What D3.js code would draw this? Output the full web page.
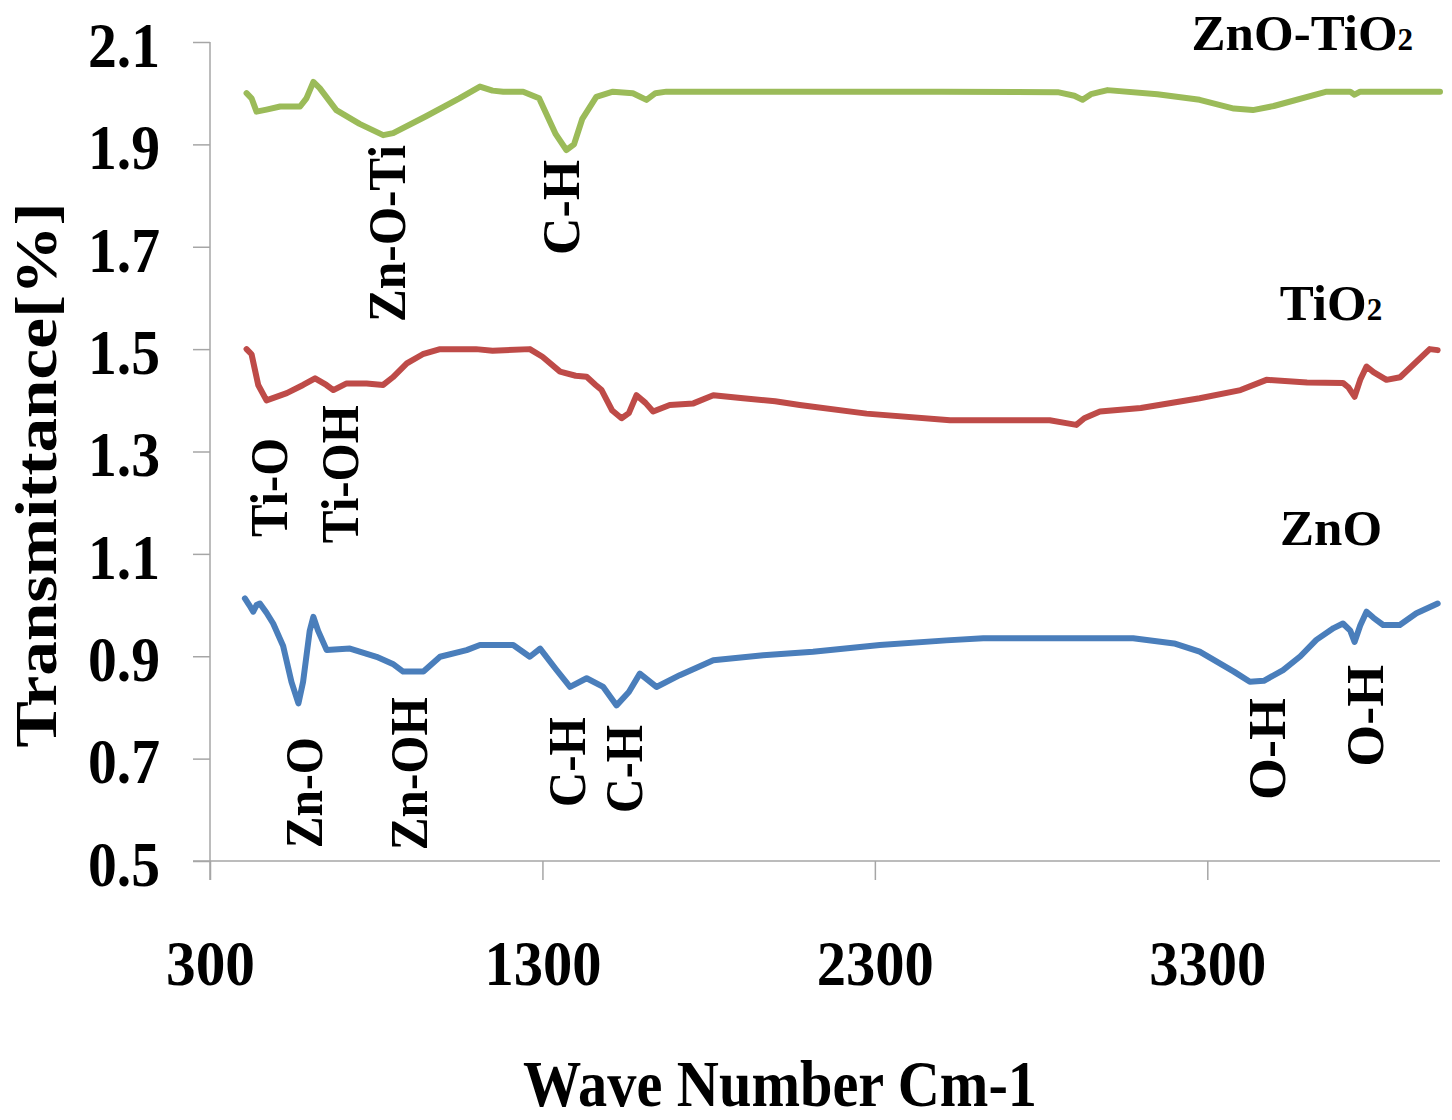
<!DOCTYPE html>
<html>
<head>
<meta charset="utf-8">
<script src="https://cdn.jsdelivr.net/npm/d3@7"></script>
<style>
  html, body { margin: 0; padding: 0; background: #fff; }
  svg { display: block; }
  text { font-family: "Liberation Serif", "Times New Roman", serif; font-weight: bold; fill: #000; }
</style>
</head>
<body>
<svg id="chart" width="1452" height="1120"></svg>
<script>
// ---- data ----
const xTicks = [300, 1300, 2300, 3300];
const yTicks = [0.5, 0.7, 0.9, 1.1, 1.3, 1.5, 1.7, 1.9, 2.1];

const seriesNames = ["ZnO-TiO2", "TiO2", "ZnO"];
const seriesColors = ["#9bbb59", "#be4b48", "#4a7ebb"];

const waveZnOTiO2 = [410, 425, 440, 470, 511, 571, 590, 611, 630, 680, 750, 821, 851, 950, 1050, 1112, 1150, 1182, 1242, 1290, 1340, 1372, 1395, 1420, 1462, 1512, 1572, 1613, 1640, 1673, 1750, 2000, 2500, 2850, 2900, 2925, 2950, 3000, 3150, 3277, 3380, 3437, 3500, 3659, 3730, 3743, 3760, 4000];
const transZnOTiO2 = [2.000, 1.990, 1.964, 1.968, 1.974, 1.974, 1.990, 2.022, 2.010, 1.967, 1.940, 1.918, 1.922, 1.955, 1.990, 2.013, 2.005, 2.003, 2.003, 1.990, 1.920, 1.889, 1.900, 1.950, 1.993, 2.003, 2.000, 1.987, 2.000, 2.003, 2.003, 2.003, 2.003, 2.002, 1.995, 1.987, 1.998, 2.006, 1.998, 1.987, 1.970, 1.967, 1.975, 2.003, 2.003, 1.997, 2.003, 2.003];

const waveTiO2 = [410, 425, 445, 470, 531, 580, 616, 650, 671, 711, 771, 821, 850, 892, 940, 992, 1100, 1150, 1262, 1300, 1353, 1400, 1433, 1460, 1478, 1510, 1538, 1560, 1583, 1610, 1633, 1683, 1754, 1814, 1904, 2000, 2074, 2275, 2526, 2826, 2880, 2906, 2930, 2977, 3100, 3277, 3400, 3478, 3600, 3708, 3725, 3743, 3760, 3779, 3800, 3839, 3880, 3969, 3993];
const transTiO2 = [1.500, 1.490, 1.430, 1.400, 1.414, 1.430, 1.443, 1.430, 1.420, 1.433, 1.433, 1.430, 1.445, 1.472, 1.490, 1.500, 1.500, 1.497, 1.500, 1.485, 1.456, 1.448, 1.446, 1.430, 1.420, 1.380, 1.365, 1.375, 1.410, 1.395, 1.378, 1.391, 1.394, 1.410, 1.404, 1.398, 1.391, 1.374, 1.361, 1.361, 1.355, 1.352, 1.365, 1.378, 1.385, 1.404, 1.420, 1.440, 1.435, 1.434, 1.425, 1.407, 1.440, 1.466, 1.455, 1.440, 1.445, 1.500, 1.498];

const waveZnO = [405, 418, 430, 440, 450, 470, 490, 520, 545, 566, 580, 600, 611, 625, 651, 721, 801, 850, 881, 942, 992, 1072, 1112, 1172, 1212, 1262, 1293, 1340, 1383, 1433, 1483, 1523, 1560, 1593, 1643, 1713, 1814, 1964, 2114, 2315, 2515, 2626, 2906, 3077, 3200, 3277, 3380, 3428, 3470, 3528, 3580, 3628, 3680, 3708, 3730, 3743, 3760, 3779, 3800, 3829, 3879, 3929, 3993];
const transZnO = [1.013, 1.000, 0.987, 1.000, 1.003, 0.985, 0.964, 0.920, 0.850, 0.808, 0.850, 0.950, 0.977, 0.950, 0.912, 0.915, 0.899, 0.885, 0.870, 0.870, 0.899, 0.912, 0.922, 0.922, 0.922, 0.899, 0.915, 0.875, 0.840, 0.857, 0.840, 0.804, 0.830, 0.866, 0.840, 0.863, 0.892, 0.902, 0.909, 0.922, 0.931, 0.935, 0.935, 0.935, 0.925, 0.909, 0.870, 0.850, 0.852, 0.873, 0.900, 0.932, 0.955, 0.964, 0.950, 0.928, 0.960, 0.987, 0.975, 0.961, 0.961, 0.984, 1.003];

// peak annotations: label, wavenumber & transmittance where the rotated text starts
const peakLabels = ["Zn-O-Ti", "C-H", "Ti-O", "Ti-OH", "Zn-O", "Zn-OH", "C-H", "C-H", "O-H", "O-H"];
const peakWave   = [887, 1410, 532, 745, 637, 953, 1428, 1600, 3534, 3829];
const peakTrans  = [1.553, 1.684, 1.133, 1.121, 0.525, 0.521, 0.605, 0.594, 0.619, 0.684];

// series name label anchors (right end)
const nameWave  = [3919, 3826, 3826];
const nameTrans = [2.084, 1.557, 1.117];

const xTitle = "Wave Number Cm-1";
const yTitle = "Transmittance[%]";

// ---- drawing ----
const svg = d3.select("#chart");
const x = d3.scaleLinear().domain([300, 4000]).range([210, 1440]);
const y = d3.scaleLinear().domain([0.5, 2.1]).range([861, 42]);

const axisColor = "#a6a6a6";

// y axis
const gy = svg.append("g").attr("transform", `translate(${x(300)},0)`)
  .call(d3.axisLeft(y).tickValues(yTicks).tickFormat(d3.format(".1f")).tickSize(17).tickSizeOuter(0).tickPadding(33));
gy.select(".domain").attr("stroke", axisColor).attr("stroke-width", 1.5)
  .attr("d", `M0,${y(2.1)}V${y(0.5) + 19}`);
gy.selectAll(".tick line").attr("stroke", axisColor).attr("stroke-width", 1.5);
gy.selectAll(".tick text")
  .attr("font-size", 64).attr("dy", "0.38em")
  .attr("font-family", "Liberation Serif, serif").attr("font-weight", "bold").attr("fill", "#000")
  .attr("textLength", 72).attr("lengthAdjust", "spacingAndGlyphs");

// x axis
const gx = svg.append("g").attr("transform", `translate(0,${y(0.5)})`)
  .call(d3.axisBottom(x).tickValues(xTicks).tickFormat(d3.format("d")).tickSize(19).tickSizeOuter(0).tickPadding(60));
gx.select(".domain").attr("stroke", axisColor).attr("stroke-width", 1.5)
  .attr("d", `M${x(300) - 17},0H${x(4000)}`);
gx.selectAll(".tick line").attr("stroke", axisColor).attr("stroke-width", 1.5);
gx.selectAll(".tick text")
  .attr("font-size", 64).attr("dy", "0.71em")
  .attr("font-family", "Liberation Serif, serif").attr("font-weight", "bold").attr("fill", "#000")
  .each(function(d) {
    const len = String(d).length === 3 ? 89 : 117;
    d3.select(this).attr("textLength", len).attr("lengthAdjust", "spacingAndGlyphs");
  });

// lines
const seriesData = [
  d3.zip(waveZnOTiO2, transZnOTiO2),
  d3.zip(waveTiO2, transTiO2),
  d3.zip(waveZnO, transZnO)
];
const line = d3.line().x(d => x(d[0])).y(d => y(d[1]));
svg.append("g").selectAll("path.series").data(seriesData).join("path")
  .attr("class", "series")
  .attr("d", line)
  .attr("fill", "none")
  .attr("stroke", (d, i) => seriesColors[i])
  .attr("stroke-width", 6)
  .attr("stroke-linejoin", "round")
  .attr("stroke-linecap", "round");

// series names
const nameG = svg.append("g");
seriesNames.forEach((name, i) => {
  const t = nameG.append("text")
    .attr("x", x(nameWave[i])).attr("y", y(nameTrans[i]))
    .attr("text-anchor", "end").attr("font-size", 51);
  const m = name.match(/^(.*?)(\d)$/);
  if (m) {
    t.append("tspan").text(m[1]);
    t.append("tspan").attr("font-size", 31).text(m[2]);
  } else {
    t.text(name);
  }
});

// peak labels
const peakLens = [177, 95, 99, 138, 111, 153, 90, 88, 102, 102];
svg.append("g").selectAll("text").data(peakLabels).join("text")
  .attr("transform", (d, i) => `translate(${x(peakWave[i])},${y(peakTrans[i])}) rotate(-90)`)
  .attr("font-size", 52)
  .attr("textLength", (d, i) => peakLens[i])
  .attr("lengthAdjust", "spacingAndGlyphs")
  .text(d => d);

// axis titles
svg.append("text")
  .attr("x", 780).attr("y", 1106)
  .attr("text-anchor", "middle").attr("font-size", 66)
  .attr("textLength", 514).attr("lengthAdjust", "spacingAndGlyphs")
  .text(xTitle);

svg.append("text")
  .attr("transform", "translate(56,475) rotate(-90)")
  .attr("text-anchor", "middle").attr("font-size", 60)
  .attr("textLength", 545).attr("lengthAdjust", "spacingAndGlyphs")
  .text(yTitle);
</script>
</body>
</html>
